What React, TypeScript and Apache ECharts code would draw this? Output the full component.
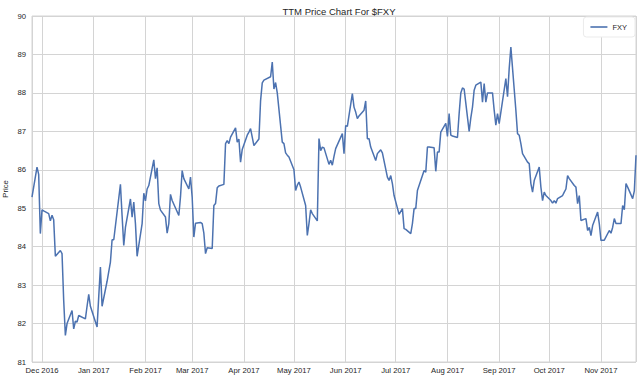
import React, { useEffect, useRef } from "react";
import * as echarts from "echarts";

const dates: string[] = [
  "2016-11-25","2016-11-28","2016-11-29","2016-11-30","2016-12-01","2016-12-02","2016-12-05","2016-12-06","2016-12-07","2016-12-08",
  "2016-12-09","2016-12-12","2016-12-13","2016-12-14","2016-12-15","2016-12-16","2016-12-19","2016-12-20","2016-12-21","2016-12-22",
  "2016-12-23","2016-12-27","2016-12-28","2016-12-29","2016-12-30","2017-01-03","2017-01-04","2017-01-05","2017-01-06","2017-01-09",
  "2017-01-10","2017-01-11","2017-01-12","2017-01-13","2017-01-17","2017-01-18","2017-01-19","2017-01-20","2017-01-23","2017-01-24",
  "2017-01-25","2017-01-26","2017-01-27","2017-01-30","2017-01-31","2017-02-01","2017-02-02","2017-02-03","2017-02-06","2017-02-07",
  "2017-02-08","2017-02-09","2017-02-10","2017-02-13","2017-02-14","2017-02-15","2017-02-16","2017-02-17","2017-02-21","2017-02-22",
  "2017-02-23","2017-02-24","2017-02-27","2017-02-28","2017-03-01","2017-03-02","2017-03-03","2017-03-06","2017-03-07","2017-03-08",
  "2017-03-09","2017-03-10","2017-03-13","2017-03-14","2017-03-15","2017-03-16","2017-03-17","2017-03-20","2017-03-21","2017-03-22",
  "2017-03-23","2017-03-24","2017-03-27","2017-03-28","2017-03-29","2017-03-30","2017-03-31","2017-04-03","2017-04-04","2017-04-05",
  "2017-04-06","2017-04-07","2017-04-10","2017-04-11","2017-04-12","2017-04-13","2017-04-17","2017-04-18","2017-04-19","2017-04-20",
  "2017-04-21","2017-04-24","2017-04-25","2017-04-26","2017-04-27","2017-04-28","2017-05-01","2017-05-02","2017-05-03","2017-05-04",
  "2017-05-05","2017-05-08","2017-05-09","2017-05-10","2017-05-11","2017-05-12","2017-05-15","2017-05-16","2017-05-17","2017-05-18",
  "2017-05-19","2017-05-22","2017-05-23","2017-05-24","2017-05-25","2017-05-26","2017-05-30","2017-05-31","2017-06-01","2017-06-02",
  "2017-06-05","2017-06-06","2017-06-07","2017-06-08","2017-06-09","2017-06-12","2017-06-13","2017-06-14","2017-06-15","2017-06-16",
  "2017-06-19","2017-06-20","2017-06-21","2017-06-22","2017-06-23","2017-06-26","2017-06-27","2017-06-28","2017-06-29","2017-06-30",
  "2017-07-03","2017-07-05","2017-07-06","2017-07-07","2017-07-10","2017-07-11","2017-07-12","2017-07-13","2017-07-14","2017-07-17",
  "2017-07-18","2017-07-19","2017-07-20","2017-07-21","2017-07-24","2017-07-25","2017-07-26","2017-07-27","2017-07-28","2017-07-31",
  "2017-08-01","2017-08-02","2017-08-03","2017-08-04","2017-08-07","2017-08-08","2017-08-09","2017-08-10","2017-08-11","2017-08-14",
  "2017-08-15","2017-08-16","2017-08-17","2017-08-18","2017-08-21","2017-08-22","2017-08-23","2017-08-24","2017-08-25","2017-08-28",
  "2017-08-29","2017-08-30","2017-08-31","2017-09-01","2017-09-05","2017-09-06","2017-09-07","2017-09-08","2017-09-11","2017-09-12",
  "2017-09-13","2017-09-14","2017-09-15","2017-09-18","2017-09-19","2017-09-20","2017-09-21","2017-09-22","2017-09-25","2017-09-26",
  "2017-09-27","2017-09-28","2017-09-29","2017-10-02","2017-10-03","2017-10-04","2017-10-05","2017-10-06","2017-10-09","2017-10-10",
  "2017-10-11","2017-10-12","2017-10-13","2017-10-16","2017-10-17","2017-10-18","2017-10-19","2017-10-20","2017-10-23","2017-10-24",
  "2017-10-25","2017-10-26","2017-10-27","2017-10-30","2017-10-31","2017-11-01","2017-11-02","2017-11-03","2017-11-06","2017-11-07",
  "2017-11-08","2017-11-09","2017-11-10","2017-11-13","2017-11-14","2017-11-15","2017-11-16","2017-11-17","2017-11-20","2017-11-21",
  "2017-11-22"
];

const prices: number[] = [
  85.29, 86.07, 85.88, 84.34, 84.96, 84.93, 84.86, 84.67, 84.82, 84.70,
  83.75, 83.90, 83.82, 82.60, 81.69, 82.00, 82.34, 81.86, 82.06, 82.04,
  82.21, 82.12, 82.45, 82.76, 82.45, 81.91, 82.70, 83.47, 82.45, 83.10,
  83.35, 83.60, 84.18, 84.18, 85.62, 84.80, 84.03, 84.50, 85.24, 84.77,
  85.16, 84.60, 83.75, 84.60, 85.39, 85.19, 85.50, 85.59, 86.26, 85.77,
  86.05, 85.12, 84.95, 84.77, 84.35, 84.60, 85.36, 85.20, 84.81, 85.30,
  85.98, 85.77, 85.50, 85.81, 85.29, 84.25, 84.61, 84.63, 84.60, 84.35,
  83.82, 83.97, 83.95, 85.07, 85.12, 85.53, 85.58, 85.62, 86.68, 86.76,
  86.68, 86.85, 87.09, 86.72, 86.80, 86.20, 86.53, 86.90, 86.98, 87.07,
  86.85, 86.63, 86.80, 87.80, 88.26, 88.33, 88.42, 88.80, 88.10, 88.27,
  88.00, 86.72, 86.68, 86.44, 86.38, 86.33, 86.00, 85.46, 85.60, 85.68,
  85.55, 85.07, 84.29, 84.60, 84.96, 84.86, 84.67, 86.81, 86.50, 86.59,
  86.57, 86.14, 86.25, 86.12, 86.35, 86.55, 86.94, 86.42, 87.15, 87.13,
  87.98, 87.63, 87.50, 87.33, 87.40, 87.55, 87.79, 86.81, 86.81, 86.59,
  86.24, 86.42, 86.47, 86.52, 86.44, 85.81, 85.72, 85.85, 85.64, 85.33,
  84.84, 84.99, 84.47, 84.45, 84.34, 84.60, 84.99, 84.99, 85.46, 85.85,
  85.98, 85.94, 86.59, 86.59, 86.57, 85.96, 86.46, 86.46, 86.98, 87.21,
  86.87, 87.46, 86.90, 86.88, 86.84, 87.46, 88.00, 88.13, 88.10, 87.00,
  87.35, 87.63, 88.07, 88.20, 88.28, 87.76, 88.24, 87.76, 88.00, 88.00,
  87.55, 87.16, 87.46, 87.20, 88.37, 87.90, 88.63, 89.19, 87.55, 86.94,
  86.90, 86.68, 86.42, 86.20, 86.16, 85.64, 85.42, 85.72, 86.07, 85.55,
  85.20, 85.42, 85.33, 85.20, 85.13, 85.20, 85.13, 85.25, 85.33, 85.42,
  85.50, 85.85, 85.77, 85.59, 85.55, 85.12, 85.33, 84.68, 84.73, 84.42,
  84.50, 84.29, 84.55, 84.90, 84.60, 84.16, 84.17, 84.17, 84.42, 84.35,
  84.50, 84.73, 84.60, 84.60, 85.07, 84.96, 85.64, 85.55, 85.25, 85.45,
  86.38
];

const MONTHS = ["Jan","Feb","Mar","Apr","May","Jun","Jul","Aug","Sep","Oct","Nov","Dec"];
const FONT = "Liberation Sans, Arial, sans-serif";
const TEXT = "#262626";
const GRID = "#d4d4d4";
const LINE = "#4c72b0";

export default function App() {
  const ref = useRef<HTMLDivElement>(null);
  useEffect(() => {
    if (!ref.current) return;
    const chart = echarts.init(ref.current, undefined, { renderer: "svg" });
    const data = dates.map((d, i) => [d, prices[i]]);
    chart.setOption({
      animation: false,
      backgroundColor: "#ffffff",
      textStyle: { fontFamily: FONT },
      title: {
        text: "TTM Price Chart For $FXY",
        left: 334,
        top: 1,
        textAlign: "center",
        textStyle: { fontSize: 9.5, fontWeight: "normal", color: TEXT, fontFamily: FONT },
      },
      legend: {
        right: 5,
        top: 17,
        padding: [6, 8, 6, 7],
        itemWidth: 17,
        itemHeight: 1.6,
        itemGap: 6,
        backgroundColor: "#ffffff",
        borderColor: "#ebebeb",
        borderWidth: 1,
        borderRadius: 3,
        textStyle: { fontSize: 7.5, color: TEXT, fontFamily: FONT },
        data: [{ name: "FXY", icon: "rect", itemStyle: { color: LINE } }],
      },
      grid: {
        left: 32,
        right: 4,
        top: 16,
        bottom: 18,
        containLabel: false,
        outerBoundsMode: "none",
        show: true,
        borderColor: GRID,
        borderWidth: 1,
      },
      xAxis: {
        type: "time",
        min: "2016-11-25",
        max: "2017-11-22",
        minInterval: 28 * 86400000,
        maxInterval: 31 * 86400000,
        axisLine: { show: false },
        axisTick: { show: false },
        splitLine: { show: true, lineStyle: { color: GRID, width: 1 } },
        axisLabel: {
          showMinLabel: false,
          showMaxLabel: false,
          align: "center",
          margin: 4,
          fontSize: 7.7,
          color: TEXT,
          fontFamily: FONT,
          hideOverlap: false,
          formatter: (v: number) => {
            const d = new Date(v);
            return MONTHS[d.getMonth()] + " " + d.getFullYear();
          },
        },
      },
      yAxis: {
        type: "value",
        min: 81,
        max: 90,
        interval: 1,
        name: "Price",
        nameLocation: "middle",
        nameRotate: 90,
        nameGap: 23,
        nameMoveOverlap: false,
        nameTextStyle: { fontSize: 7.7, color: TEXT, fontFamily: FONT },
        axisLine: { show: false },
        axisTick: { show: false },
        splitLine: { show: true, lineStyle: { color: GRID, width: 1 } },
        axisLabel: { margin: 6, fontSize: 7.7, color: TEXT, fontFamily: FONT },
      },
      series: [
        {
          name: "FXY",
          type: "line",
          data,
          symbol: "none",
          lineStyle: { color: LINE, width: 1.5 },
          itemStyle: { color: LINE },
        },
      ],
    });
    return () => chart.dispose();
  }, []);
  return (
    <div
      ref={ref}
      style={{ position: "fixed", left: 0, top: 0, width: 640, height: 380 }}
    />
  );
}
